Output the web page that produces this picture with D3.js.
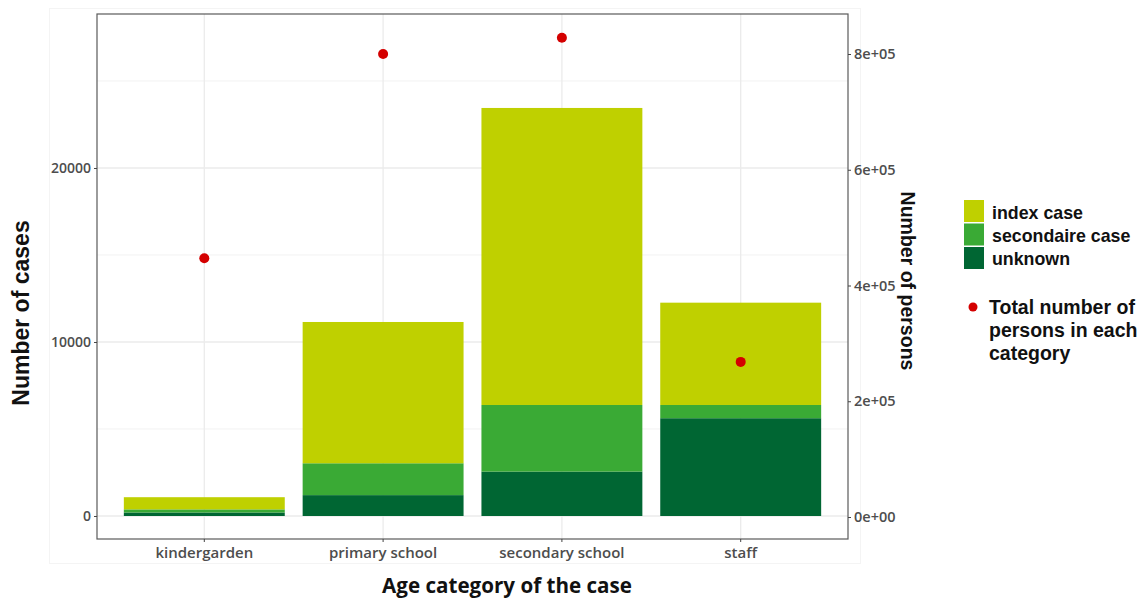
<!DOCTYPE html>
<html><head><meta charset="utf-8">
<script src="https://cdn.jsdelivr.net/npm/d3@7"></script>
<style>body{margin:0;background:#fff}</style>
</head><body>
<svg id="c" width="1143" height="601"></svg>
<script>
const categories = ["kindergarden","primary school","secondary school","staff"];
const seriesNames = ["unknown","secondaire case","index case"];
const unknown   = [200, 1200, 2550, 5620];
const secondaire= [180, 1830, 3830, 760];
const indexCase = [700, 8120, 17070, 5880];
const persons   = [447000, 800000, 828000, 268000];
const leftTicks = [0, 10000, 20000];
const rightTicks = [0, 200000, 400000, 600000, 800000];
const rightLabels = ["0e+00","2e+05","4e+05","6e+05","8e+05"];
const colors = {"index case":"#bfd000","secondaire case":"#3aaa35","unknown":"#006633"};

const svg = d3.select("#c");
const P = {l:97, r:848, t:14, b:539};

// faint plot background border
svg.append("rect").attr("x",49.5).attr("y",8.5).attr("width",811).attr("height",555)
  .attr("fill","none").attr("stroke","#f4f4f4");

const x = d3.scaleBand().domain(categories).range([114.9, 830.1]).paddingInner(0.1).paddingOuter(0.05);
const y = d3.scaleLinear().domain([-1322, 28850]).range([P.b, P.t]);
const y2 = d3.scaleLinear().domain([-38000, 0, 800000]).range([P.b, 517, 54]);

const g = svg.append("g");
// minor grid
[5000,15000,25000].forEach(v=>{
  g.append("line").attr("x1",P.l).attr("x2",P.r).attr("y1",y(v)).attr("y2",y(v)).attr("stroke","#f2f2f2").attr("stroke-width",1);
});
leftTicks.forEach(v=>{
  g.append("line").attr("x1",P.l).attr("x2",P.r).attr("y1",y(v)).attr("y2",y(v)).attr("stroke","#ebebeb").attr("stroke-width",1.3);
});
categories.forEach(c=>{
  const cx = x(c)+x.bandwidth()/2;
  g.append("line").attr("x1",cx).attr("x2",cx).attr("y1",P.t).attr("y2",P.b).attr("stroke","#ebebeb").attr("stroke-width",1.3);
});

// stacked bars
const rows = categories.map((c,i)=>({cat:c, "unknown":unknown[i], "secondaire case":secondaire[i], "index case":indexCase[i]}));
const stack = d3.stack().keys(seriesNames)(rows);
stack.forEach(s=>{
  g.selectAll(null).data(s).enter().append("rect")
    .attr("x",d=>x(d.data.cat)).attr("width",x.bandwidth())
    .attr("y",d=>y(d[1])).attr("height",d=>y(d[0])-y(d[1]))
    .attr("fill",colors[s.key]);
});

// points
g.selectAll(null).data(categories).enter().append("circle")
  .attr("cx",c=>x(c)+x.bandwidth()/2).attr("cy",(c,i)=>y2(persons[i])).attr("r",5).attr("fill","#d40000");

// panel border
svg.append("rect").attr("x",P.l).attr("y",P.t).attr("width",P.r-P.l).attr("height",P.b-P.t)
  .attr("fill","none").attr("stroke","#5a5a5a").attr("stroke-width",1.2);

// left axis
const la = svg.append("g").attr("transform",`translate(${P.l},0)`)
  .call(d3.axisLeft(y).tickValues(leftTicks).tickSize(3).tickPadding(3).tickFormat(d3.format("d")));
la.select(".domain").remove();
la.selectAll("line").attr("stroke","#444");
la.selectAll("text").attr("font-family","Open Sans").attr("font-weight","600").attr("font-size","14px").attr("fill","#4d4d4d");

// right axis
const ra = svg.append("g").attr("transform",`translate(${P.r},0)`)
  .call(d3.axisRight(y2).tickValues(rightTicks).tickSize(3).tickPadding(3).tickFormat((d,i)=>rightLabels[i]));
ra.select(".domain").remove();
ra.selectAll("line").attr("stroke","#444");
ra.selectAll("text").attr("font-family","Open Sans").attr("font-weight","600").attr("font-size","14.5px").attr("fill","#4d4d4d");

// bottom axis
const ba = svg.append("g").attr("transform",`translate(0,${P.b})`)
  .call(d3.axisBottom(x).tickSize(3).tickPadding(5));
ba.select(".domain").remove();
ba.selectAll("line").attr("stroke","#444");
ba.selectAll("text").attr("font-family","Open Sans").attr("font-weight","600").attr("font-size","15px").attr("fill","#4d4d4d");

// titles
svg.append("text").attr("x",507).attr("y",593).attr("text-anchor","middle")
  .attr("font-family","Open Sans").attr("font-weight","bold").attr("font-size","20.6px").attr("fill","#111").text("Age category of the case");
svg.append("text").attr("transform","translate(29,313) rotate(-90)").attr("text-anchor","middle")
  .attr("font-family","Liberation Sans").attr("font-weight","bold").attr("font-size","23px").attr("fill","#111").text("Number of cases");
svg.append("text").attr("transform","translate(901,281) rotate(90)").attr("text-anchor","middle")
  .attr("font-family","Liberation Sans").attr("font-weight","bold").attr("font-size","19.5px").attr("fill","#111").text("Number of persons");

// legend
const leg = svg.append("g");
const legKeys = ["index case","secondaire case","unknown"];
legKeys.forEach((k,i)=>{
  leg.append("rect").attr("x",964).attr("y",200+i*23.5).attr("width",20).attr("height",22).attr("fill",colors[k]);
  leg.append("text").attr("x",992).attr("y",219+i*23).attr("font-family","Liberation Sans").attr("font-weight","bold")
    .attr("font-size","17.8px").attr("fill","#111").text(k);
});
leg.append("circle").attr("cx",973).attr("cy",307).attr("r",4.5).attr("fill","#d40000");
["Total number of","persons in each","category"].forEach((t,i)=>{
  leg.append("text").attr("x",989).attr("y",314+i*23).attr("font-family","Liberation Sans").attr("font-weight","bold")
    .attr("font-size","19.5px").attr("fill","#111").text(t);
});
</script>
</body></html>
